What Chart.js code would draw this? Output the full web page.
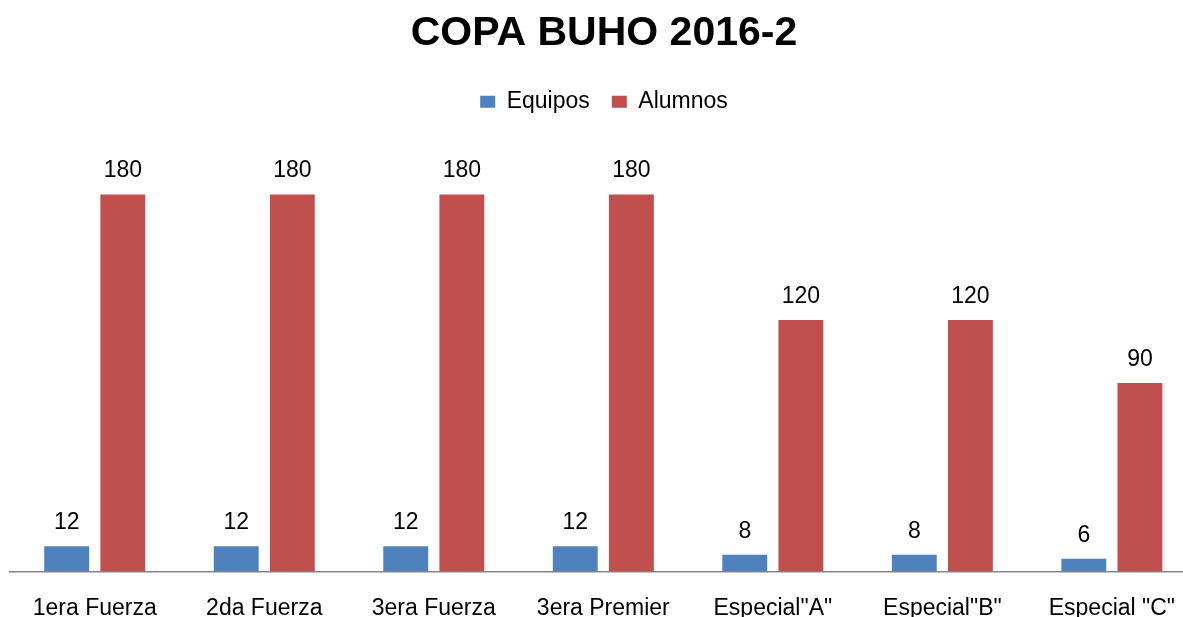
<!DOCTYPE html>
<html>
<head>
<meta charset="utf-8">
<script src="https://cdn.jsdelivr.net/npm/chart.js@4"></script>
<style>
  html, body { margin: 0; padding: 0; background: #fff; overflow: hidden; }
  #wrap { width: 1183px; height: 617px; overflow: hidden; }
</style>
</head>
<body>
<div id="wrap"><canvas id="myChart" width="1198" height="662"></canvas></div>
<script>
const categories = ['1era Fuerza', '2da Fuerza', '3era Fuerza', '3era Premier', 'Especial"A"', 'Especial"B"', 'Especial "C"'];
const equipos = [12, 12, 12, 12, 8, 8, 6];
const alumnos = [180, 180, 180, 180, 120, 120, 90];

const FONT = 'Liberation Sans, Arial, sans-serif';

// value labels above each bar
const barValueLabels = {
  id: 'barValueLabels',
  afterDatasetsDraw(chart) {
    const {ctx} = chart;
    ctx.save();
    ctx.font = '23px ' + FONT;
    ctx.fillStyle = '#000';
    ctx.textAlign = 'center';
    ctx.textBaseline = 'alphabetic';
    chart.data.datasets.forEach((dataset, i) => {
      chart.getDatasetMeta(i).data.forEach((bar, index) => {
        ctx.fillText(dataset.data[index], bar.x, bar.y - 17);
      });
    });
    ctx.restore();
  }
};

const config = {
  type: 'bar',
  data: {
    labels: categories,
    datasets: [{
      label: 'Equipos',
      data: equipos,
      backgroundColor: '#4F81BD',
      borderWidth: 0
    }, {
      label: 'Alumnos',
      data: alumnos,
      backgroundColor: '#C0504D',
      borderWidth: 0
    }]
  },
  options: {
    responsive: false,
    animation: false,
    devicePixelRatio: 1,
    categoryPercentage: 0.662,
    barPercentage: 0.8,
    layout: {
      padding: {left: 10, right: 0, top: 0, bottom: 17}
    },
    plugins: {
      title: {
        display: true,
        text: 'COPA BUHO 2016-2',
        color: '#000',
        font: {family: FONT, size: 41, weight: 'bold'},
        padding: {top: 9, bottom: 10}
      },
      legend: {
        display: true,
        position: 'top',
        labels: {
          color: '#000',
          font: {family: FONT, size: 23},
          boxWidth: 15,
          boxHeight: 12,
          padding: 22
        }
      },
      tooltip: {enabled: false}
    },
    scales: {
      x: {
        grid: {display: false, drawTicks: false},
        border: {display: true, color: '#868686', width: 1.5},
        ticks: {
          color: '#000',
          font: {family: FONT, size: 23},
          padding: 23,
          maxRotation: 0
        }
      },
      y: {
        display: false,
        min: 0,
        max: 214
      }
    }
  },
  plugins: [barValueLabels]
};

const myChart = new Chart(document.getElementById('myChart'), config);
</script>
</body>
</html>
